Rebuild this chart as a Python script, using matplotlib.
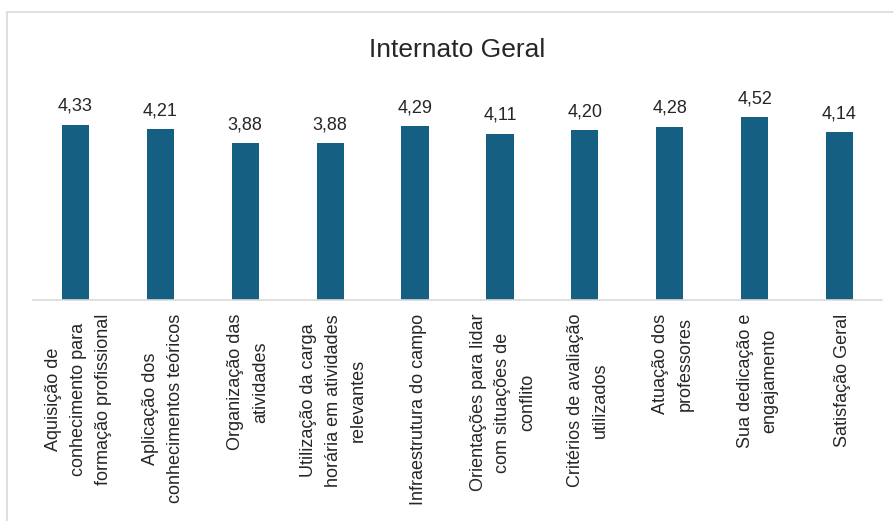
import matplotlib
matplotlib.use("Agg")
import matplotlib.pyplot as plt
import matplotlib.transforms as mtransforms
from matplotlib.patches import Rectangle

categories = [
    "Aquisição de\nconhecimento para\nformação profissional",
    "Aplicação dos\nconhecimentos teóricos",
    "Organização das\natividades",
    "Utilização da carga\nhorária em atividades\nrelevantes",
    "Infraestrutura do campo",
    "Orientações para lidar\ncom situações de\nconflito",
    "Critérios de avaliação\nutilizados",
    "Atuação dos\nprofessores",
    "Sua dedicação e\nengajamento",
    "Satisfação Geral",
]
values = [4.33, 4.21, 3.88, 3.88, 4.29, 4.11, 4.20, 4.28, 4.52, 4.14]

plt.rcParams['font.family'] = ['Liberation Sans', 'DejaVu Sans']

W, H = 893, 521
fig = plt.figure(figsize=(W / 100, H / 100), dpi=100)

# chart area border (light grey, like the Excel chart frame)
fig.patches.append(Rectangle((7 / W, -0.05), 1.1, 1 - 12 / H + 0.05,
                             transform=fig.transFigure, fill=False,
                             edgecolor='#D9D9D9', linewidth=1.2))

ax = fig.add_axes([33 / W, 1 - 300 / H, (882 - 33) / W, 202.5 / H])
x = range(len(categories))
bars = ax.bar(x, values, width=0.32, color='#156082')

ax.set_xlim(-0.5, len(categories) - 0.5)
ax.set_ylim(0, 5)

for b, v in zip(bars, values):
    ax.annotate(f"{v:.2f}".replace('.', ','),
                (b.get_x() + b.get_width() / 2, v),
                xytext=(0, 7), textcoords='offset points',
                ha='center', va='bottom', fontsize=13, color='#262626')

ax.set_xticks(list(x))
ax.set_xticklabels(categories, rotation=90, ha='center', va='top',
                   multialignment='center', fontsize=13,
                   color='#262626', linespacing=1.6)
ax.tick_params(axis='x', length=0, pad=10)
ax.set_yticks([])

# nudge the rotated labels a little right so blocks sit centred under bars
shift = mtransforms.ScaledTranslation(3 / 100, 0, fig.dpi_scale_trans)
for lbl in ax.get_xticklabels():
    lbl.set_transform(lbl.get_transform() + shift)

for side in ['top', 'right', 'left']:
    ax.spines[side].set_visible(False)
ax.spines['bottom'].set_color('#D9D9D9')
ax.spines['bottom'].set_linewidth(1.2)

fig.text(457 / W, 1 - 50 / H, "Internato Geral", ha='center', va='center',
         fontsize=19, color='#262626')

plt.savefig('out.png', dpi=100)
